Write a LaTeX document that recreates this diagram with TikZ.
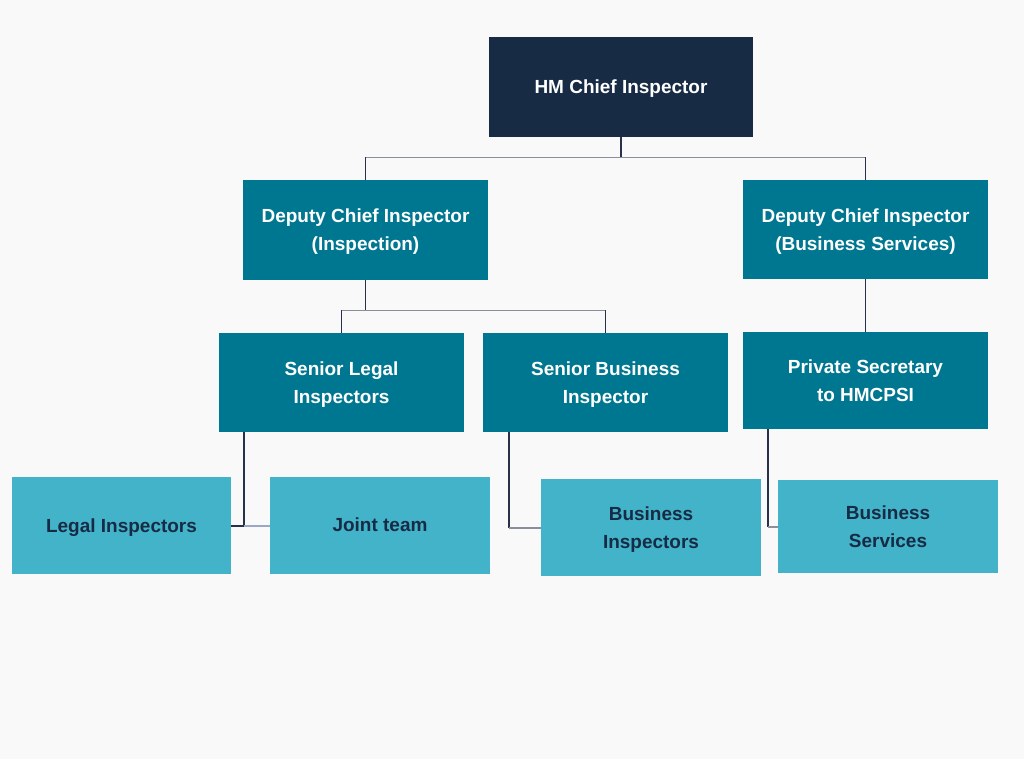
\documentclass[tikz,border=0pt]{standalone}
\usepackage{fontspec}
\setmainfont{Liberation Sans}
\usepackage{tikz}

\definecolor{navy}{HTML}{172B45}
\definecolor{teal}{HTML}{007790}
\definecolor{lightteal}{HTML}{42B3C8}
\definecolor{bgcol}{HTML}{F9F9F9}
\definecolor{linedark}{HTML}{25324A}
\definecolor{linegrey}{HTML}{8A9099}
\definecolor{linelight}{HTML}{9AA8C8}

\begin{document}
\begin{tikzpicture}
  [x=0.025cm, y=-0.025cm,
   box/.style={draw=none, align=center, inner sep=0pt, text depth=0pt,
     font=\fontsize{13.5}{20}\selectfont\bfseries},
   topbox/.style={box, fill=navy, text=white},
   midbox/.style={box, fill=teal, text=white},
   lowbox/.style={box, fill=lightteal, text=navy},
   link/.style={linedark, line width=0.8pt},
   hlink/.style={linegrey, line width=0.8pt}]
  \fill[bgcol] (0,0) rectangle (1024,759);
  % top level
  \node[topbox, minimum width=264*0.025cm, minimum height=100*0.025cm] (hm) at (621,87) {HM Chief Inspector};
  % deputies
  \node[midbox, minimum width=245*0.025cm, minimum height=100*0.025cm] (dcii) at (365.5,230) {Deputy Chief Inspector\\(Inspection)};
  \node[midbox, minimum width=245*0.025cm, minimum height=99*0.025cm] (dcib) at (865.5,229.5) {Deputy Chief Inspector\\(Business Services)};
  % seniors
  \node[midbox, minimum width=245*0.025cm, minimum height=99*0.025cm] (sli) at (341.5,382.5) {Senior Legal\\Inspectors};
  \node[midbox, minimum width=245*0.025cm, minimum height=99*0.025cm] (sbi) at (605.5,382.5) {Senior Business\\Inspector};
  \node[midbox, minimum width=245*0.025cm, minimum height=97*0.025cm] (ps) at (865.5,380.5) {Private Secretary\\to HMCPSI};
  % teams
  \node[lowbox, minimum width=219*0.025cm, minimum height=97*0.025cm] (li) at (121.5,525.5) {Legal Inspectors};
  \node[lowbox, minimum width=220*0.025cm, minimum height=97*0.025cm] (jt) at (380,525.5) {\raisebox{1.5pt}{Joint team}};
  \node[lowbox, minimum width=220*0.025cm, minimum height=97*0.025cm] (bi) at (651,527.5) {Business\\Inspectors};
  \node[lowbox, minimum width=220*0.025cm, minimum height=93*0.025cm] (bs) at (888,526.5) {Business\\Services};

  % connectors
  \draw[link] (hm.south) -- ++(0,20) coordinate (hmj);
  \draw[hlink] (dcii.north |- hmj) -- (dcib.north |- hmj);
  \draw[link] (dcii.north |- hmj) -- (dcii.north);
  \draw[link] (dcib.north |- hmj) -- (dcib.north);

  \draw[link] (dcii.south) -- ++(0,30) coordinate (dj);
  \draw[hlink] (sli.north |- dj) -- (sbi.north |- dj);
  \draw[link] (sli.north |- dj) -- (sli.north);
  \draw[link] (sbi.north |- dj) -- (sbi.north);

  \draw[link] (dcib.south) -- (ps.north);

  \coordinate (lj) at (244,526);
  \draw[link] (sli.south -| lj) -- (lj) -- (li.east |- lj);
  \draw[linelight, line width=0.8pt] (lj) -- (jt.west |- lj);

  \coordinate (bj) at (509,528);
  \draw[link] (sbi.south -| bj) -- (bj);
  \draw[hlink] (bj) -- (bi.west |- bj);

  \coordinate (pj) at (768,527);
  \draw[link] (ps.south -| pj) -- (pj);
  \draw[hlink] (pj) -- (bs.west |- pj);
\end{tikzpicture}
\end{document}
